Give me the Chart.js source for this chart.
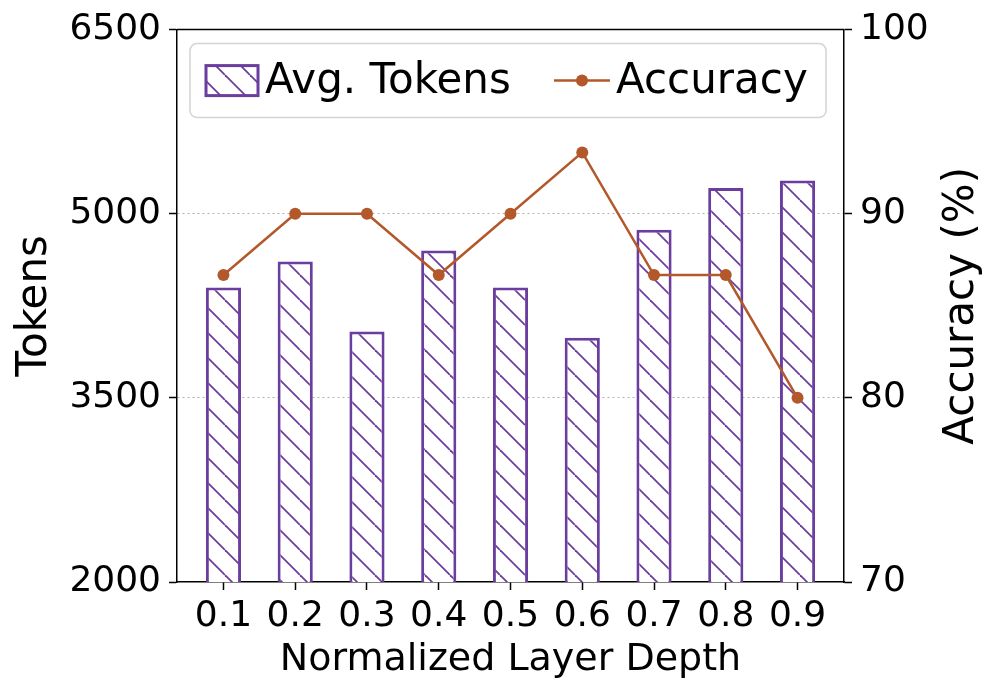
<!DOCTYPE html>
<html>
<head>
<meta charset="utf-8">
<script src="https://cdn.jsdelivr.net/npm/chart.js@4.4.1/dist/chart.umd.min.js"></script>
<style>
  html, body { margin: 0; padding: 0; background: #fff; }
</style>
</head>
<body>
<canvas id="chart" width="997" height="695"></canvas>
<script>
// data
const depthLabels = ['0.1', '0.2', '0.3', '0.4', '0.5', '0.6', '0.7', '0.8', '0.9'];
const avgTokens = [4400, 4610, 4040, 4700, 4400, 3990, 4870, 5210, 5270];
const accuracy = [86.67, 90, 90, 86.67, 90, 93.33, 86.67, 86.67, 80];
const tokenTicks = [2000, 3500, 5000, 6500];
const accuracyTicks = [70, 80, 90, 100];

const PURPLE = '#6b3d9e';
const ORANGE = '#b3582a';
const FONT = 'DejaVu Sans';

const canvas = document.getElementById('chart');
const ctx = canvas.getContext('2d');

// "\\" hatch like matplotlib
function makeHatch(color, size, width) {
    const tile = document.createElement('canvas');
    tile.width = size;
    tile.height = size;
    const g = tile.getContext('2d');
    g.fillStyle = '#fff';
    g.fillRect(0, 0, size, size);
    g.strokeStyle = color;
    g.lineWidth = width;
    for (const dx of [-size, 0, size]) {
        g.beginPath();
        g.moveTo(dx, 0);
        g.lineTo(dx + size, size);
        g.stroke();
    }
    return ctx.createPattern(tile, 'repeat');
}
const hatch = makeHatch(PURPLE, 25, 1.8);

const xi = depthLabels.map((_, i) => i);

// top spine, right axis title and legend box inside the plot
const extras = {
    id: 'extras',
    afterDraw(chart) {
        const c = chart.ctx;
        const a = chart.chartArea;
        c.save();
        c.strokeStyle = '#000';
        c.lineWidth = 1.5;
        c.beginPath();
        c.moveTo(a.left, a.top);
        c.lineTo(a.right, a.top);
        c.stroke();

        // right title, reads bottom to top like matplotlib
        c.save();
        c.translate(962, (a.top + a.bottom) / 2);
        c.rotate(-Math.PI / 2);
        c.font = '42px "' + FONT + '"';
        c.fillStyle = '#000';
        c.textAlign = 'center';
        c.textBaseline = 'middle';
        c.fillText('Accuracy (%)', 0, 0);
        c.restore();

        // legend
        const lx = a.left + 13, ly = a.top + 14, lw = 636, lh = 74;
        c.beginPath();
        c.roundRect(lx, ly, lw, lh, 7);
        c.fillStyle = 'rgba(255,255,255,0.8)';
        c.fill();
        c.strokeStyle = '#d4d4d4';
        c.lineWidth = 1.5;
        c.stroke();

        const midY = ly + lh / 2;
        c.fillStyle = hatch;
        c.fillRect(lx + 16, midY - 15, 52, 30);
        c.strokeStyle = PURPLE;
        c.lineWidth = 3;
        c.strokeRect(lx + 16, midY - 15, 52, 30);

        c.font = '42px "' + FONT + '"';
        c.fillStyle = '#000';
        c.textBaseline = 'middle';
        c.fillText(chart.data.datasets[0].label, lx + 75, midY + 1);

        c.strokeStyle = ORANGE;
        c.lineWidth = 2.5;
        c.beginPath();
        c.moveTo(lx + 364, midY);
        c.lineTo(lx + 420, midY);
        c.stroke();
        c.fillStyle = ORANGE;
        c.beginPath();
        c.arc(lx + 392, midY, 6, 0, Math.PI * 2);
        c.fill();
        c.fillStyle = '#000';
        c.fillText(chart.data.datasets[1].label, lx + 426, midY + 1);
        c.restore();
    }
};

new Chart(ctx, {
    data: {
        datasets: [
            {
                type: 'bar',
                label: 'Avg. Tokens',
                data: xi.map(i => ({ x: i, y: avgTokens[i] })),
                backgroundColor: hatch,
                borderColor: PURPLE,
                borderWidth: 3,
                borderSkipped: false,
                barPercentage: 0.49,
                categoryPercentage: 1,
                yAxisID: 'y',
                order: 2
            },
            {
                type: 'line',
                label: 'Accuracy',
                data: xi.map(i => ({ x: i, y: accuracy[i] })),
                borderColor: ORANGE,
                backgroundColor: ORANGE,
                borderWidth: 2.5,
                pointRadius: 6,
                pointBorderWidth: 0,
                tension: 0,
                yAxisID: 'y1',
                order: 1
            }
        ]
    },
    options: {
        responsive: false,
        animation: false,
        devicePixelRatio: 1,
        layout: { padding: { top: 28, left: 0, right: 0, bottom: 0 } },
        plugins: { legend: { display: false }, tooltip: { enabled: false } },
        scales: {
            x: {
                type: 'linear',
                offset: false,
                min: -0.6475,
                max: 8.6475,
                afterBuildTicks: s => { s.ticks = xi.map(v => ({ value: v })); },
                afterFit: s => { s.height = 113; },
                ticks: {
                    callback: v => depthLabels[v],
                    font: { family: FONT, size: 36 },
                    color: '#000',
                    padding: 5,
                    maxRotation: 0,
                    autoSkip: false
                },
                grid: { offset: false, drawOnChartArea: false, tickLength: 8, tickColor: '#000', tickWidth: 1.5 },
                border: { color: '#000', width: 1.5 },
                title: {
                    display: true,
                    text: 'Normalized Layer Depth',
                    font: { family: FONT, size: 38 },
                    color: '#000',
                    padding: { top: 0, bottom: 12 }
                }
            },
            y: {
                position: 'left',
                min: 2000,
                max: 6500,
                afterBuildTicks: s => { s.ticks = tokenTicks.map(v => ({ value: v })); },
                afterFit: s => { s.width = 177; },
                ticks: { callback: v => String(v), font: { family: FONT, size: 36 }, color: '#000', padding: 8 },
                grid: {
                    color: c => (c.tick && (c.tick.value === 2000 || c.tick.value === 6500)) ? 'rgba(0,0,0,0)' : '#b0b0b0',
                    lineWidth: 1,
                    tickLength: 8,
                    tickColor: '#000',
                    tickWidth: 1.5
                },
                border: { color: '#000', width: 1.5, dash: [2, 3] },
                title: {
                    display: true,
                    text: 'Tokens',
                    font: { family: FONT, size: 42 },
                    color: '#000',
                    padding: { top: 10, bottom: 0 }
                }
            },
            y1: {
                position: 'right',
                min: 70,
                max: 100,
                afterBuildTicks: s => { s.ticks = accuracyTicks.map(v => ({ value: v })); },
                afterFit: s => { s.width = 153; },
                ticks: { callback: v => String(v), font: { family: FONT, size: 36 }, color: '#000', padding: 8 },
                grid: { drawOnChartArea: false, tickLength: 8, tickColor: '#000', tickWidth: 1.5 },
                border: { color: '#000', width: 1.5 }
            }
        }
    },
    plugins: [extras]
});
</script>
</body>
</html>
